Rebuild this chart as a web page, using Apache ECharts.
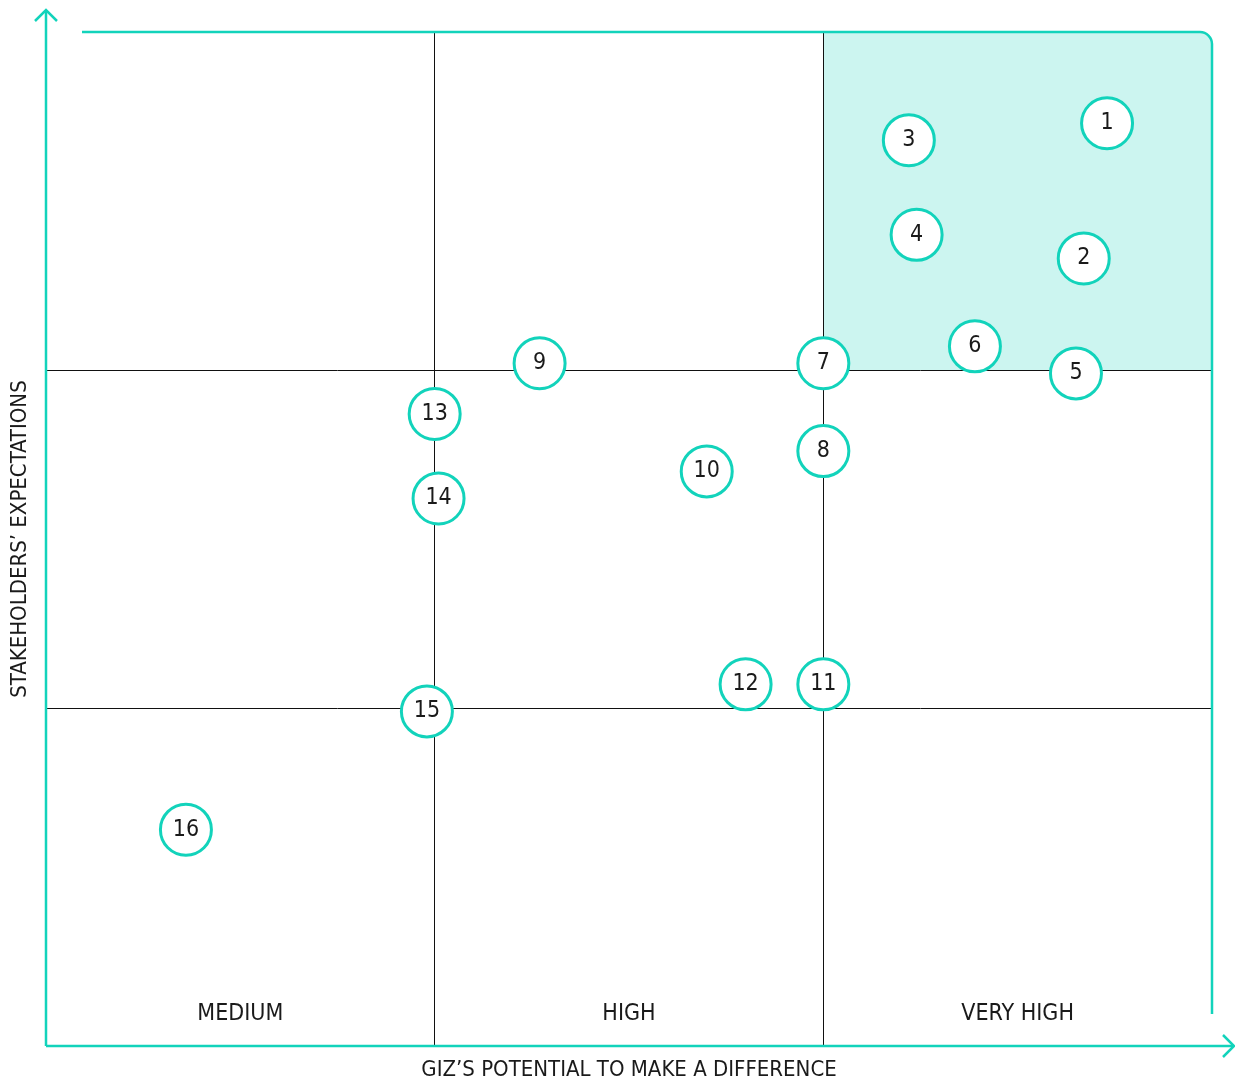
<!DOCTYPE html>
<html>
<head>
<meta charset="utf-8">
<script src="https://cdn.jsdelivr.net/npm/echarts@6/dist/echarts.min.js"></script>
<style>
html,body{margin:0;padding:0;background:#fff;}
#main{width:1235px;height:1082px;}
</style>
</head>
<body>
<div id="main"></div>
<script>
// ---- data ----
const pointIds = ['1','2','3','4','5','6','7','8','9','10','11','12','13','14','15','16'];
const pointX   = [2.73, 2.67, 2.22, 2.24, 2.65, 2.39, 2.00, 2.00, 1.27, 1.70, 2.00, 1.80, 1.00, 1.01, 0.98, 0.36];
const pointY   = [2.73, 2.33, 2.68, 2.40, 1.99, 2.07, 2.02, 1.76, 2.02, 1.70, 1.07, 1.07, 1.87, 1.62, 0.99, 0.64];
const columnLabels = ['MEDIUM', 'HIGH', 'VERY HIGH'];
const xAxisName = 'GIZ’S POTENTIAL TO MAKE A DIFFERENCE';
const yAxisName = 'STAKEHOLDERS’ EXPECTATIONS';
const dividersX = [1, 2];
const dividersY = [1, 2];
const highlight = {x0: 2, x1: 3, y0: 2, y1: 3};

const TEAL = '#12d3bb';
const FILL = '#ccf5f0';
const FONT = "'Liberation Sans Narrow', 'DejaVu Sans Condensed', sans-serif";

const chart = echarts.init(document.getElementById('main'), null, {renderer: 'canvas'});

const option = {
  animation: false,
  backgroundColor: '#fff',
  grid: {left: 46, right: 23, top: 32, bottom: 36, containLabel: false, outerBoundsMode: 'none'},
  xAxis: [
    {
      type: 'value', min: 0, max: 3, interval: 1,
      axisLine: {show: false}, axisTick: {show: false}, axisLabel: {show: false}, splitLine: {show: false},
      name: xAxisName, nameLocation: 'middle', nameGap: 13,
      nameTextStyle: {fontFamily: FONT, fontSize: 22, color: '#1a1a1a'}
    },
    {
      type: 'category', data: columnLabels, position: 'bottom', boundaryGap: true,
      axisLine: {show: false}, axisTick: {show: false}, splitLine: {show: false},
      axisLabel: {inside: true, margin: 20, fontFamily: FONT, fontSize: 23, color: '#1a1a1a'}
    }
  ],
  yAxis: {
    type: 'value', min: 0, max: 3, interval: 1,
    axisLine: {show: false}, axisTick: {show: false}, axisLabel: {show: false}, splitLine: {show: false},
    name: yAxisName, nameLocation: 'middle', nameGap: 15, nameRotate: 90,
    nameTextStyle: {fontFamily: FONT, fontSize: 22, color: '#1a1a1a'}
  },
  series: [
    {
      type: 'scatter', data: [], z: 1, silent: true,
      markLine: {
        silent: true, symbol: ['none', 'none'],
        lineStyle: {color: '#111', width: 1, type: 'solid'},
        label: {show: false},
        data: dividersX.map(v => ({xAxis: v})).concat(dividersY.map(v => ({yAxis: v})))
      }
    },
    {
      type: 'scatter', z: 5,
      symbol: 'circle', symbolSize: 51,
      itemStyle: {color: '#fff', borderColor: TEAL, borderWidth: 3, opacity: 1},
      label: {show: true, position: 'inside', formatter: p => p.data[2], fontFamily: FONT, fontSize: 23, color: '#1a1a1a'},
      data: pointIds.map((id, i) => [pointX[i], pointY[i], id])
    }
  ]
};
chart.setOption(option);

function px(x, y) { return chart.convertToPixel({gridIndex: 0}, [x, y]); }
const o = px(0, 0);
const tr = px(3, 3);
const h0 = px(highlight.x0, highlight.y1);
const h1 = px(highlight.x1, highlight.y0);
const r = 12;
const lw = 2.5;
const lineStyle = {stroke: TEAL, lineWidth: lw, fill: null};

chart.setOption({
  graphic: [
    {
      type: 'rect', z: -1, silent: true,
      shape: {x: h0[0], y: h0[1], width: h1[0] - h0[0], height: h1[1] - h0[1], r: [0, r, 0, 0]},
      style: {fill: FILL}
    },
    { type: 'polyline', z: 10, silent: true,
      shape: {points: [[o[0], o[1]], [o[0], tr[1] - 22]]}, style: lineStyle },
    { type: 'polyline', z: 10, silent: true,
      shape: {points: [[o[0] - 11, tr[1] - 11], [o[0], tr[1] - 22], [o[0] + 11, tr[1] - 11]]}, style: lineStyle },
    { type: 'polyline', z: 10, silent: true,
      shape: {points: [[o[0], o[1]], [tr[0] + 22, o[1]]]}, style: lineStyle },
    { type: 'polyline', z: 10, silent: true,
      shape: {points: [[tr[0] + 11, o[1] - 11], [tr[0] + 22, o[1]], [tr[0] + 11, o[1] + 11]]}, style: lineStyle },
    { type: 'polyline', z: 10, silent: true,
      shape: {points: [[o[0] + 36, tr[1]], [tr[0] - r, tr[1]]]}, style: lineStyle },
    { type: 'arc', z: 10, silent: true,
      shape: {cx: tr[0] - r, cy: tr[1] + r, r: r, startAngle: -Math.PI / 2, endAngle: 0, clockwise: true},
      style: lineStyle },
    { type: 'polyline', z: 10, silent: true,
      shape: {points: [[tr[0], tr[1] + r], [tr[0], o[1] - 32]]}, style: lineStyle }
  ]
});
</script>
</body>
</html>
